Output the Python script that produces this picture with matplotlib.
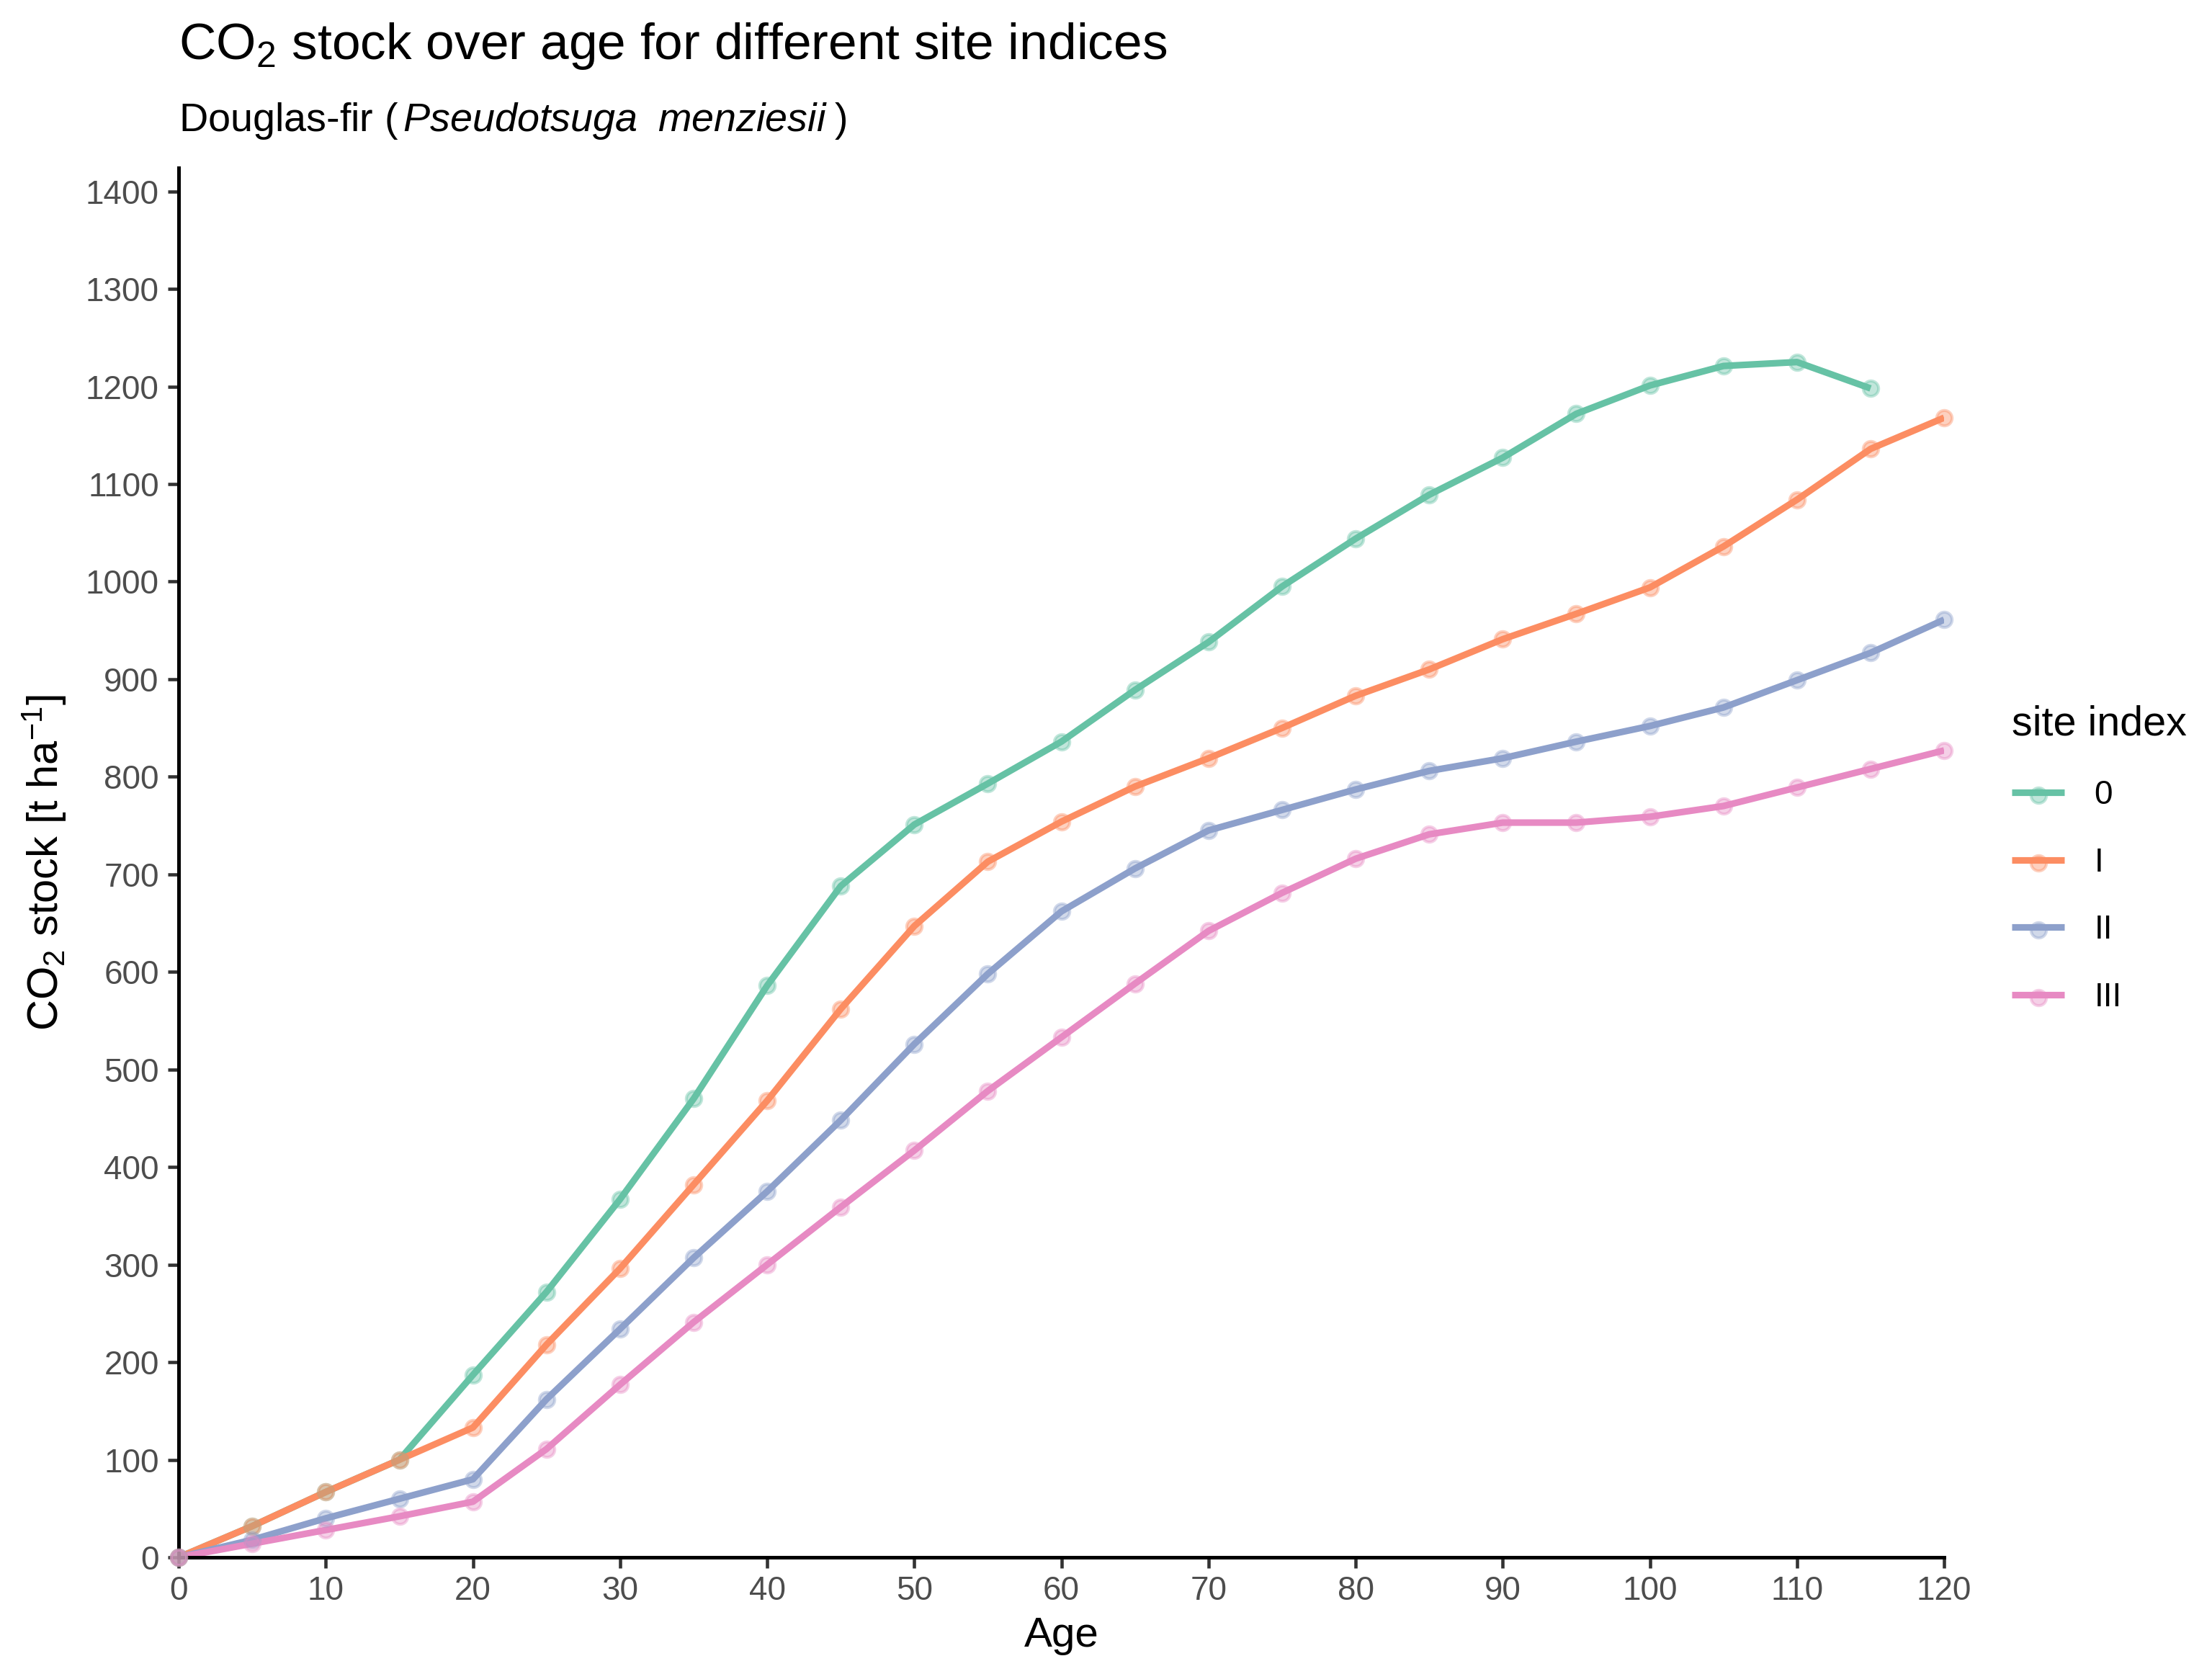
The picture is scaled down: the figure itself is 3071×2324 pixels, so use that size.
import numpy as np
import matplotlib
matplotlib.use("Agg")
import matplotlib.pyplot as plt

plt.rcParams['font.family'] = ['Liberation Sans', 'DejaVu Sans']
plt.rcParams['mathtext.fontset'] = 'custom'
plt.rcParams['mathtext.rm'] = 'Liberation Sans'
plt.rcParams['mathtext.it'] = 'Liberation Sans:italic'
plt.rcParams['mathtext.bf'] = 'Liberation Sans:bold'

# data
age = [0, 5, 10, 15, 20, 25, 30, 35, 40, 45, 50, 55, 60, 65, 70, 75, 80, 85,
       90, 95, 100, 105, 110, 115, 120]
si_0 = [0, 32, 67, 100, 187, 272, 367, 470, 586, 688, 751, 793, 836, 889,
        938, 995, 1044, 1089, 1127, 1172, 1201, 1221, 1225, 1198]
si_I = [0, 32, 67, 100, 133, 218, 296, 382, 468, 562, 647, 713, 754, 790,
        819, 850, 883, 910, 941, 967, 994, 1036, 1084, 1136, 1168]
si_II = [0, 18, 40, 60, 80, 162, 234, 307, 375, 448, 526, 598, 662, 706,
         745, 766, 787, 806, 819, 836, 852, 871, 899, 927, 961]
si_III = [0, 14, 28, 42, 57, 111, 177, 241, 300, 359, 417, 478, 533, 588,
          642, 681, 716, 741, 753, 753, 759, 770, 789, 808, 827]

labels = ["0", "I", "II", "III"]
series = [si_0, si_I, si_II, si_III]
colors = ["#66C2A5", "#FC8D62", "#8DA0CB", "#E78AC3"]

fig = plt.figure(figsize=(3071 / 300, 2324 / 300), dpi=300)
ax = fig.add_axes([0.0808, 0.0697, 0.7981, 0.8300])

handles = []
for lab, vals, col in zip(labels, series, colors):
    x = age[:len(vals)]
    ln, = ax.plot(x, vals, color=col, lw=2.2, solid_capstyle='butt', zorder=2)
    sc = ax.scatter(x, vals, s=26, color=col, alpha=0.4, linewidths=1.0,
                    edgecolors=col, zorder=3, clip_on=False)
    handles.append((ln, sc))

ax.set_xlim(0, 120)
ax.set_ylim(0, 1424)
ax.set_xticks(np.arange(0, 121, 10))
ax.set_yticks(np.arange(0, 1401, 100))

for s in ['top', 'right']:
    ax.spines[s].set_visible(False)
for s in ['left', 'bottom']:
    ax.spines[s].set_linewidth(1.2)
    ax.spines[s].set_color('black')
ax.tick_params(axis='both', length=3.6, width=1.1, color='#333333',
               labelsize=11, labelcolor='#4D4D4D')
ax.tick_params(axis='x', pad=2.5)
ax.tick_params(axis='y', pad=3.0)

ax.set_xlabel("Age", fontsize=14, labelpad=3)
ax.set_ylabel(r"CO$_2$ stock [t ha$^{-1}$]", fontsize=14.3)
ax.yaxis.set_label_coords(-0.0625, 0.5)

fig.text(0.0808, 0.9647, r"CO$_2$ stock over age for different site indices",
         fontsize=17.1, ha='left', va='baseline')
fig.text(0.0808, 0.9217,
         r"Douglas-fir ($\,\mathit{Pseudotsuga}\ \;\mathit{menziesii}\;$)",
         fontsize=13.4, ha='left', va='baseline')

leg = fig.legend(handles, labels, title="site index", loc='upper left',
                 bbox_to_anchor=(0.9095, 0.5788), frameon=False, fontsize=11,
                 title_fontsize=13.8, handlelength=1.6, handletextpad=0.9,
                 labelspacing=1.08, borderpad=0, borderaxespad=0,
                 alignment='left')

fig.savefig("out.png", dpi=300)
